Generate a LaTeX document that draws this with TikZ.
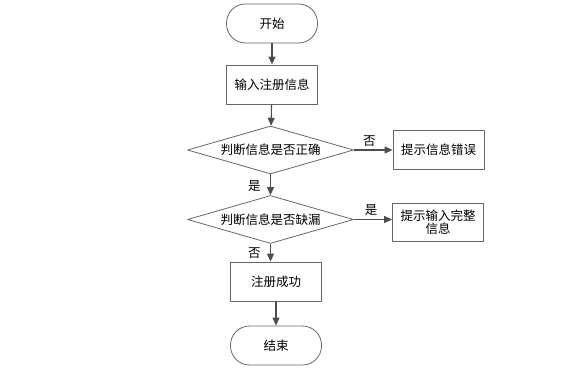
\documentclass[tikz,border=0pt]{standalone}
\usepackage{fontspec}
\newfontfamily\cjk{Noto Sans CJK SC}
\usetikzlibrary{arrows.meta,shapes.geometric,positioning}
\definecolor{edge}{HTML}{4D4D4D}
\definecolor{frame}{HTML}{666666}
\tikzset{
  every picture/.style={
    font=\cjk\fontsize{12.5}{15}\selectfont,
    line join=round,
  },
}

\begin{document}
\begin{tikzpicture}[x=1pt, y=1pt,
    term/.style={draw=frame, line width=0.8pt, rounded corners=19pt,
      minimum width=91pt, minimum height=39pt, inner sep=0pt},
    proc/.style={draw=frame, line width=0.8pt,
      minimum width=91pt, minimum height=39pt, inner sep=2pt},
    decide/.style={draw=frame, line width=0.8pt, diamond, aspect=3.4,
      minimum width=166pt, minimum height=48pt, inner sep=0pt},
    flow/.style={draw=edge, line width=1.1pt,
      -{Triangle[length=8pt, width=7pt]}},
  ]
    \useasboundingbox (0,0) rectangle (588,-379);

    % Main column
    \node[term] (start) at (272,-23.5) {开始};
    \node[proc] (input) at (272,-84.5) {输入注册信息};
    \node[decide] (chkok) at (270.5,-150) {判断信息是否正确};
    \node[decide] (chkgap) at (270.5,-219.5) {判断信息是否缺漏};
    \node[proc] (done) at (276,-281.5) {注册成功};
    \node[term] (stop) at (276,-345.5) {结束};

    % Side boxes
    \node[proc] (wrong) at (438.5,-150) {提示信息错误};
    \node[proc, align=center, inner sep=0pt, minimum height=38pt]
      (redo) at (438,-222) {提示输入完整\\[-2pt]信息};

    % Arrows
    \draw[flow] (start) -- (input);
    \draw[flow] (input) -- (chkok);
    \draw[flow] (chkok) -- node[left, pos=0.55, xshift=-6pt] {是} (chkgap);
    \draw[flow] (chkgap.south) -- node[left, xshift=-6pt] {否}
      (chkgap.south |- done.north);
    \draw[flow] (done) -- (stop);
    \draw[flow] (chkok.east) -- node[above, pos=0.4] {否} (wrong.west);
    \draw[flow] (chkgap.east) -- node[above, pos=0.45] {是} (chkgap.east -| redo.west);
\end{tikzpicture}
\end{document}
